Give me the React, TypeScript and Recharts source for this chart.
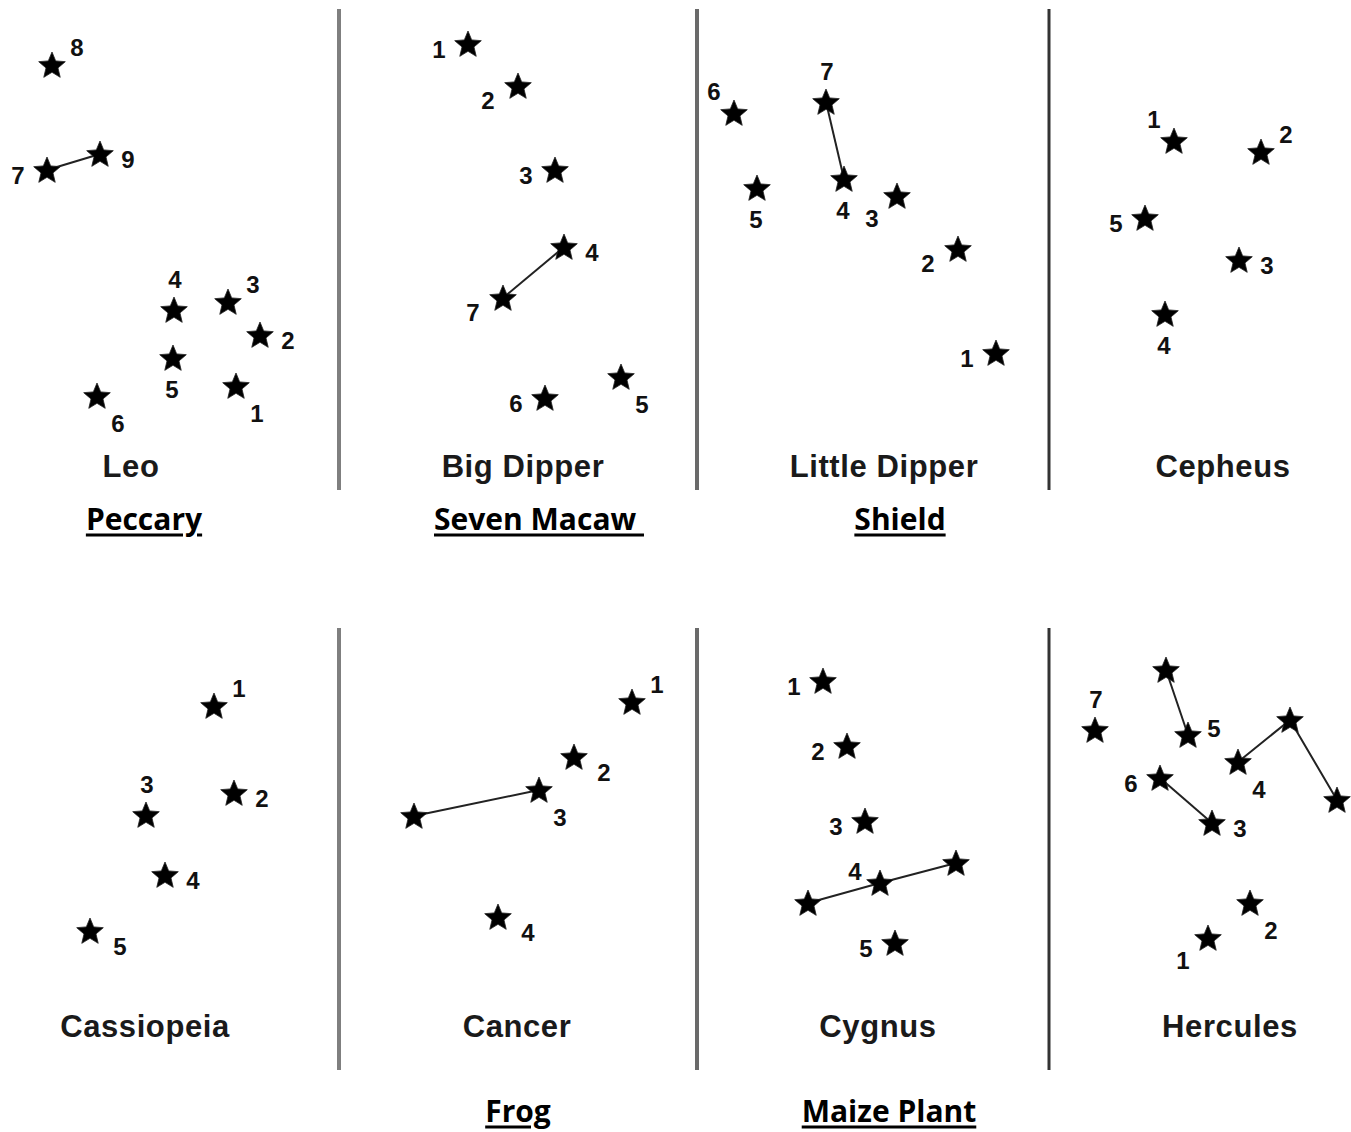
import React from 'react';
import { ScatterChart, Scatter, XAxis, YAxis, ReferenceLine } from 'recharts';

type Star = { id: string; x: number; y: number; n: string; at: string };

const W = 1351;
const H = 1132;

// star positions, in page pixels (y grows downward)
const leo: Star[] = [
  { id: '8', x: 52, y: 65, n: '8', at: 'tr' },
  { id: '7', x: 47, y: 170, n: '7', at: 'l' },
  { id: '9', x: 100, y: 154, n: '9', at: 'r' },
  { id: '4', x: 174, y: 310, n: '4', at: 't' },
  { id: '3', x: 228, y: 302, n: '3', at: 'tr' },
  { id: '2', x: 260, y: 335, n: '2', at: 'r' },
  { id: '5', x: 173, y: 358, n: '5', at: 'b' },
  { id: '1', x: 236, y: 386, n: '1', at: 'br' },
  { id: '6', x: 97, y: 396, n: '6', at: 'br' },
];
const bigDipper: Star[] = [
  { id: '1', x: 468, y: 44, n: '1', at: 'l' },
  { id: '2', x: 518, y: 86, n: '2', at: 'lb' },
  { id: '3', x: 555, y: 170, n: '3', at: 'l' },
  { id: '4', x: 564, y: 247, n: '4', at: 'r' },
  { id: '7', x: 503, y: 298, n: '7', at: 'lb' },
  { id: '5', x: 621, y: 377, n: '5', at: 'br' },
  { id: '6', x: 545, y: 398, n: '6', at: 'l' },
];
const littleDipper: Star[] = [
  { id: '6', x: 734, y: 113, n: '6', at: 'tl' },
  { id: '7', x: 826, y: 102, n: '7', at: 't' },
  { id: '4', x: 844, y: 179, n: '4', at: 'b' },
  { id: '5', x: 757, y: 188, n: '5', at: 'b' },
  { id: '3', x: 897, y: 196, n: '3', at: 'bl' },
  { id: '2', x: 958, y: 249, n: '2', at: 'lb' },
  { id: '1', x: 996, y: 353, n: '1', at: 'l' },
];
const cepheus: Star[] = [
  { id: '1', x: 1174, y: 141, n: '1', at: 'tl' },
  { id: '2', x: 1261, y: 152, n: '2', at: 'tr' },
  { id: '5', x: 1145, y: 218, n: '5', at: 'l' },
  { id: '3', x: 1239, y: 260, n: '3', at: 'r' },
  { id: '4', x: 1165, y: 314, n: '4', at: 'b' },
];
const cassiopeia: Star[] = [
  { id: '1', x: 214, y: 706, n: '1', at: 'tr' },
  { id: '2', x: 234, y: 793, n: '2', at: 'r' },
  { id: '3', x: 146, y: 815, n: '3', at: 't' },
  { id: '4', x: 165, y: 875, n: '4', at: 'r' },
  { id: '5', x: 90, y: 931, n: '5', at: 'rb' },
];
const cancer: Star[] = [
  { id: '1', x: 632, y: 702, n: '1', at: 'tr' },
  { id: '2', x: 574, y: 757, n: '2', at: 'rb' },
  { id: '3', x: 539, y: 790, n: '3', at: 'br' },
  { id: 'a', x: 414, y: 816, n: '', at: 'r' },
  { id: '4', x: 498, y: 917, n: '4', at: 'rb' },
];
const cygnus: Star[] = [
  { id: '1', x: 823, y: 681, n: '1', at: 'l' },
  { id: '2', x: 847, y: 746, n: '2', at: 'l' },
  { id: '3', x: 865, y: 821, n: '3', at: 'l' },
  { id: '4', x: 880, y: 883, n: '4', at: 'lt' },
  { id: 'a', x: 808, y: 903, n: '', at: 'r' },
  { id: 'b', x: 956, y: 863, n: '', at: 'r' },
  { id: '5', x: 895, y: 943, n: '5', at: 'l' },
];
const hercules: Star[] = [
  { id: '7', x: 1095, y: 730, n: '7', at: 't' },
  { id: 'a', x: 1166, y: 670, n: '', at: 'r' },
  { id: '5', x: 1188, y: 735, n: '5', at: 'rt' },
  { id: '4', x: 1238, y: 762, n: '4', at: 'br' },
  { id: 'b', x: 1290, y: 720, n: '', at: 'r' },
  { id: 'c', x: 1337, y: 800, n: '', at: 'r' },
  { id: '6', x: 1160, y: 778, n: '6', at: 'l' },
  { id: '3', x: 1212, y: 823, n: '3', at: 'r' },
  { id: '2', x: 1250, y: 903, n: '2', at: 'br' },
  { id: '1', x: 1208, y: 938, n: '1', at: 'bl' },
];

// which stars are joined by a line
const leoLinks = [['7', '9']];
const bigDipperLinks = [['4', '7']];
const littleDipperLinks = [['7', '4']];
const cancerLinks = [['a', '3']];
const cygnusLinks = [['a', '4', 'b']];
const herculesLinks = [['a', '5'], ['4', 'b', 'c'], ['6', '3']];

const constellationNames = ['Leo', 'Big Dipper', 'Little Dipper', 'Cepheus', 'Cassiopeia', 'Cancer', 'Cygnus', 'Hercules'];
const mayaNames = ['Peccary', 'Seven Macaw ', 'Shield', '', '', 'Frog', 'Maize Plant', ''];

const groups = [
  { stars: leo, links: leoLinks },
  { stars: bigDipper, links: bigDipperLinks },
  { stars: littleDipper, links: littleDipperLinks },
  { stars: cepheus, links: [] as string[][] },
  { stars: cassiopeia, links: [] as string[][] },
  { stars: cancer, links: cancerLinks },
  { stars: cygnus, links: cygnusLinks },
  { stars: hercules, links: herculesLinks },
];

// layout
const titleX = [131, 523, 884, 1223, 145, 517, 878, 1230];
const mayaX = [144, 539, 900, 0, 0, 518, 889, 0];
const rowTitleY = [466, 1026];
const rowMayaY = [518, 1110];
const dividers = [
  { x: 339, y1: 9, y2: 490, color: '#7f7f7f', w: 4 },
  { x: 697, y1: 9, y2: 490, color: '#6a6a6a', w: 4 },
  { x: 1049, y1: 9, y2: 490, color: '#333', w: 3 },
  { x: 339, y1: 628, y2: 1070, color: '#7f7f7f', w: 4 },
  { x: 697, y1: 628, y2: 1070, color: '#6a6a6a', w: 4 },
  { x: 1049, y1: 628, y2: 1070, color: '#333', w: 3 },
];

const labelOffset: Record<string, [number, number]> = {
  r: [28, 5],
  rt: [26, -7],
  rb: [30, 15],
  l: [-29, 5],
  lt: [-25, -12],
  lb: [-30, 14],
  t: [1, -31],
  b: [-1, 31],
  tr: [25, -18],
  tl: [-20, -22],
  br: [21, 27],
  bl: [-25, 22],
};

const starPoints = (cx: number, cy: number, R = 14, r = 6.3) => {
  const pts: string[] = [];
  for (let i = 0; i < 10; i++) {
    const a = ((-90 + i * 36) * Math.PI) / 180;
    const rad = i % 2 === 0 ? R : r;
    pts.push(`${(cx + rad * Math.cos(a)).toFixed(2)},${(cy + 1 + rad * Math.sin(a)).toFixed(2)}`);
  }
  return pts.join(' ');
};

const StarShape = (props: any) => {
  const { cx, cy, payload } = props;
  if (cx == null || cy == null) return <g />;
  const [dx, dy] = labelOffset[payload.at] || [28, 5];
  return (
    <g>
      <polygon points={starPoints(cx, cy)} fill="#000" stroke="#222" strokeWidth={0.8} />
      {payload.n && (
        <text
          x={cx + dx}
          y={cy + dy}
          textAnchor="middle"
          dominantBaseline="central"
          fontFamily="'Liberation Sans', Arial, sans-serif"
          fontWeight={700}
          fontSize={24}
          fill="#111"
        >
          {payload.n}
        </text>
      )}
    </g>
  );
};

const TitleShape = (props: any) => {
  const { cx, cy, payload } = props;
  if (!payload.text) return <g />;
  if (payload.kind === 'maya') {
    return (
      <text
        x={cx}
        y={cy}
        textAnchor="middle"
        dominantBaseline="central"
        fontFamily="'Open Sans', sans-serif"
        fontWeight={700}
        fontSize={30}
        fill="#000"
        style={{ textDecoration: 'underline', textDecorationThickness: '3px', whiteSpace: 'pre' }}
      >
        {payload.text}
      </text>
    );
  }
  return (
    <text
      x={cx}
      y={cy}
      textAnchor="middle"
      dominantBaseline="central"
      fontFamily="'Liberation Sans', Arial, sans-serif"
      fontWeight={700}
      fontSize={31}
      letterSpacing={0.6}
      fill="#1a1a1a"
    >
      {payload.text}
    </text>
  );
};

const NoDot = () => <g />;

export default function App() {
  const titleRows = constellationNames.map((t, i) => ({
    x: titleX[i],
    y: rowTitleY[i < 4 ? 0 : 1],
    text: t,
    kind: 'const',
  }));
  const mayaRows = mayaNames
    .map((t, i) => ({ x: mayaX[i], y: rowMayaY[i < 4 ? 0 : 1], text: t, kind: 'maya' }))
    .filter((r) => r.text);

  const lineSets: { x: number; y: number }[][] = [];
  groups.forEach((g) => {
    g.links.forEach((ids) => {
      lineSets.push(ids.map((id) => g.stars.find((s) => s.id === id)!).map((s) => ({ x: s.x, y: s.y })));
    });
  });

  return (
    <div style={{ position: 'absolute', left: 0, top: 0, width: W, height: H, background: '#fff' }}>
      <ScatterChart width={W} height={H} margin={{ top: 0, right: 0, bottom: 0, left: 0 }}>
        <XAxis type="number" dataKey="x" domain={[0, W]} hide allowDataOverflow />
        <YAxis type="number" dataKey="y" domain={[0, H]} reversed hide allowDataOverflow />
        {dividers.map((d, i) => (
          <ReferenceLine
            key={'d' + i}
            segment={[{ x: d.x, y: d.y1 }, { x: d.x, y: d.y2 }]}
            stroke={d.color}
            strokeWidth={d.w}
          />
        ))}
        {lineSets.map((pts, i) => (
          <Scatter
            key={'l' + i}
            data={pts}
            line={{ stroke: '#222', strokeWidth: 2 }}
            shape={NoDot}
            isAnimationActive={false}
          />
        ))}
        {groups.map((g, i) => (
          <Scatter key={'s' + i} data={g.stars} shape={StarShape} isAnimationActive={false} />
        ))}
        <Scatter data={titleRows} shape={TitleShape} isAnimationActive={false} />
        <Scatter data={mayaRows} shape={TitleShape} isAnimationActive={false} />
      </ScatterChart>
    </div>
  );
}
